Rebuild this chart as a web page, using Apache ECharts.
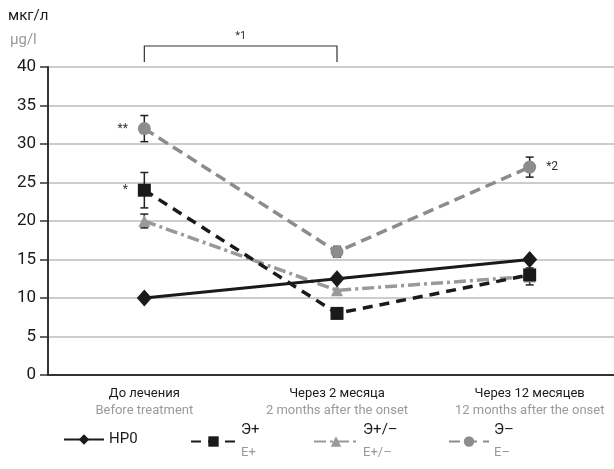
<!DOCTYPE html>
<html>
<head>
<meta charset="utf-8">
<script src="https://cdn.jsdelivr.net/npm/echarts@6/dist/echarts.min.js"></script>
<style>
  html, body { margin: 0; padding: 0; background: #fff; overflow: hidden; }
  #chart { width: 614px; height: 469px; }
</style>
</head>
<body>
<div id="chart"></div>
<script>
// Time points (Russian / English captions)
const categoriesRu = ['До лечения', 'Через 2 месяца', 'Через 12 месяцев'];
const categoriesEn = ['Before treatment', '2 months after the onset', '12 months after the onset'];
const yTicks = [0, 5, 10, 15, 20, 25, 30, 35, 40];

// Group means, мкг/л
const hp0 = [10, 12.5, 15];
const ePlus = [24, 8, 13];
const ePlusMinus = [20, 11, 12.8];
const eMinus = [32, 16, 27];

// Error bar half-widths
const ePlusErr = [2.3, 0, 0];
const ePlusMinusErr = [0.9, 0, 1.1];
const eMinusErr = [1.7, 0.7, 1.3];

// Significance markers
const ePlusMarks = ['*', '', ''];
const eMinusMarks = ['**', '', '*2'];

const FONT = 'Roboto';
const DARK = '#1a1a1a';
const GREY = '#8c8c8c';
const LIGHT = '#9a9a9a';

function withMarks(values, marks, side) {
  return values.map((v, i) => marks[i] ? {
    value: v,
    label: { show: true, formatter: marks[i], position: side[i], distance: 10,
      color: '#333', fontSize: 12, fontFamily: FONT }
  } : v);
}

function errData(values, errs) {
  const out = [];
  values.forEach((v, i) => { if (errs[i] > 0) out.push([i, v - errs[i], v + errs[i]]); });
  return out;
}

function errSeries(values, errs, color) {
  return {
    type: 'custom',
    data: errData(values, errs),
    z: 1,
    silent: true,
    renderItem: function (params, api) {
      const lo = api.coord([api.value(0), api.value(1)]);
      const hi = api.coord([api.value(0), api.value(2)]);
      const w = 4;
      const st = { stroke: color, lineWidth: 1.5 };
      return { type: 'group', children: [
        { type: 'line', shape: { x1: lo[0], y1: lo[1], x2: hi[0], y2: hi[1] }, style: st },
        { type: 'line', shape: { x1: lo[0] - w, y1: lo[1], x2: lo[0] + w, y2: lo[1] }, style: st },
        { type: 'line', shape: { x1: hi[0] - w, y1: hi[1], x2: hi[0] + w, y2: hi[1] }, style: st }
      ]};
    }
  };
}

const chart = echarts.init(document.getElementById('chart'), null, { renderer: 'canvas' });

const legendBase = {
  top: 423, padding: 0, itemHeight: 13, itemGap: 6,
  textStyle: {
    fontFamily: FONT, fontSize: 15, color: DARK,
    rich: {
      a: { fontFamily: FONT, fontSize: 15, color: DARK, lineHeight: 22 },
      b: { fontFamily: FONT, fontSize: 13, color: LIGHT, lineHeight: 22 }
    }
  }
};

chart.setOption({
  animation: false,
  backgroundColor: '#fff',
  // plot runs slightly past the right edge of the canvas
  grid: { left: 48, width: 578, top: 67, height: 308, containLabel: false, outerBoundsMode: 'none' },
  xAxis: {
    type: 'category',
    data: categoriesRu,
    boundaryGap: true,
    axisLine: { show: true, lineStyle: { color: '#333', width: 2 } },
    axisTick: { show: false },
    axisLabel: {
      interval: 0,
      hideOverlap: false,
      margin: 10,
      formatter: (v, i) => '{a|' + v + '}\n{b|' + categoriesEn[i] + '}',
      rich: {
        a: { fontFamily: FONT, fontSize: 13, color: DARK, lineHeight: 17 },
        b: { fontFamily: FONT, fontSize: 13, color: LIGHT, lineHeight: 17 }
      }
    }
  },
  yAxis: {
    type: 'value',
    min: yTicks[0], max: yTicks[yTicks.length - 1], interval: 5,
    axisLine: { show: true, lineStyle: { color: '#333', width: 2 } },
    axisTick: { show: true, length: 8, lineStyle: { color: '#333', width: 1.5 } },
    axisLabel: { fontFamily: FONT, fontSize: 17, color: DARK, margin: 12 },
    splitLine: { show: true, lineStyle: { color: '#bdbdbd', width: 1.5 } }
  },
  graphic: [
    { type: 'text', left: 8, top: 9, style: { text: 'мкг/л', fontFamily: FONT, fontSize: 15, fill: DARK } },
    { type: 'text', left: 10, top: 33, style: { text: 'μg/l', fontFamily: FONT, fontSize: 15, fill: LIGHT } }
  ],
  legend: [
    Object.assign({}, legendBase, { left: 63, top: 432, itemWidth: 40, data: ['HP0'] }),
    Object.assign({}, legendBase, { left: 190, itemWidth: 45, data: ['Э+'],
      formatter: () => '{a|Э+}\n{b|E+}' }),
    Object.assign({}, legendBase, { left: 313, itemWidth: 44, data: ['Э+/–'],
      formatter: () => '{a|Э+/–}\n{b|E+/–}' }),
    Object.assign({}, legendBase, { left: 448, itemWidth: 40, data: ['Э–'],
      formatter: () => '{a|Э–}\n{b|E–}' })
  ],
  series: [
    // Significance bracket between the first two time points
    {
      type: 'custom',
      data: [[0, 1, 40]],
      clip: false,
      silent: true,
      z: 5,
      renderItem: function (params, api) {
        const a = api.coord([api.value(0), api.value(2)]);
        const b = api.coord([api.value(1), api.value(2)]);
        const yb = a[1] - 5, yt = a[1] - 21;
        return { type: 'group', children: [
          { type: 'polyline', shape: { points: [[a[0], yb], [a[0], yt], [b[0], yt], [b[0], yb]] },
            style: { stroke: '#333', lineWidth: 1.2, fill: null } },
          { type: 'text', style: { text: '*1', x: (a[0] + b[0]) / 2, y: yt - 4,
            align: 'center', verticalAlign: 'bottom', fontFamily: FONT, fontSize: 11, fill: '#333' } }
        ]};
      }
    },
    errSeries(eMinus, eMinusErr, '#222'),
    errSeries(ePlus, ePlusErr, '#222'),
    errSeries(ePlusMinus, ePlusMinusErr, '#222'),
    {
      name: 'Э–', type: 'line', z: 3,
      data: withMarks(eMinus, eMinusMarks, ['left', '', 'right']),
      symbol: 'circle', symbolSize: 13,
      lineStyle: { color: GREY, width: 3.5, type: [11, 6] },
      itemStyle: { color: GREY }
    },
    {
      name: 'Э+/–', type: 'line', z: 3,
      data: ePlusMinus,
      symbol: 'triangle', symbolSize: 12,
      lineStyle: { color: '#999', width: 3.5, type: [12, 4, 3, 4] },
      itemStyle: { color: '#999' }
    },
    {
      name: 'Э+', type: 'line', z: 4,
      data: withMarks(ePlus, ePlusMarks, ['left', '', '']),
      symbol: 'rect', symbolSize: 13,
      lineStyle: { color: DARK, width: 3.5, type: [10, 7] },
      itemStyle: { color: DARK }
    },
    {
      name: 'HP0', type: 'line', z: 5,
      data: hp0,
      symbol: 'diamond', symbolSize: [15, 17],
      lineStyle: { color: DARK, width: 3 },
      itemStyle: { color: DARK }
    }
  ]
});
</script>
</body>
</html>
